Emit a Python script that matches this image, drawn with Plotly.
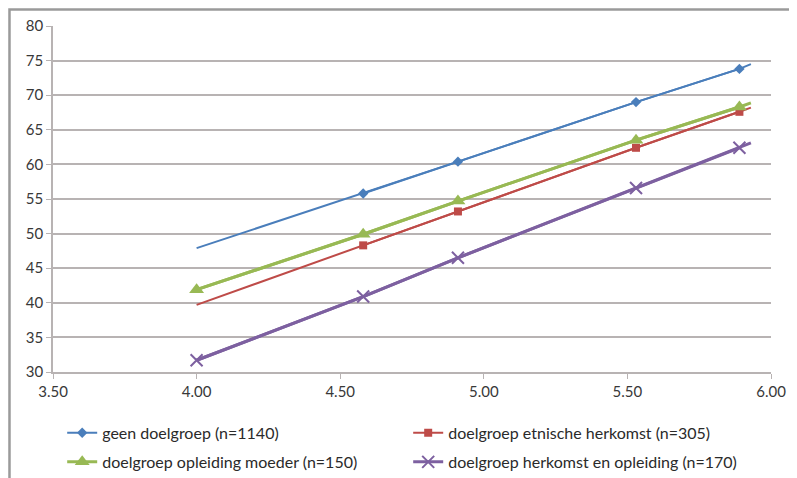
import plotly.graph_objects as go

# x-waarden (gemiddelde score) en percentages per groep
x_vals = [4.00, 4.58, 4.91, 5.53, 5.89, 5.93]
geen = [47.9, 55.8, 60.4, 69.0, 73.8, 74.5]
etnisch = [39.7, 48.3, 53.2, 62.4, 67.6, 68.2]
opleiding = [41.9, 49.9, 54.7, 63.5, 68.3, 68.9]
herkomst_opl = [31.7, 40.9, 46.5, 56.6, 62.4, 63.1]

# welke punten een marker krijgen (eerste index, laatste index exclusief)
marker_range = {
    'geen': (1, 5),
    'etnisch': (1, 5),
    'opleiding': (0, 5),
    'herkomst_opl': (0, 5),
}

namen = [
    'geen doelgroep (n=1140)',
    'doelgroep etnische herkomst (n=305)',
    'doelgroep opleiding moeder (n=150)',
    'doelgroep herkomst en opleiding (n=170)',
]

series = [
    ('geen', geen, '#4a7ebb', 2, dict(symbol='diamond', size=8)),
    ('etnisch', etnisch, '#be4b48', 2, dict(symbol='square', size=8)),
    ('opleiding', opleiding, '#98b954', 3, dict(symbol='triangle-up', size=13)),
    ('herkomst_opl', herkomst_opl, '#7d60a0', 3,
     dict(symbol='x-thin-open', size=12, line=dict(width=2))),
]

fig = go.Figure()

for i, (key, ys, color, lw, marker) in enumerate(series):
    # volledige lijn zonder markers
    fig.add_trace(go.Scatter(
        x=x_vals, y=ys, mode='lines',
        line=dict(color=color, width=lw),
        showlegend=False, hoverinfo='skip'
    ))
    # punten met markers (ook voor de legenda)
    a, b = marker_range[key]
    m = dict(marker)
    m['color'] = color
    if 'line' in m:
        m['line'] = dict(m['line'], color=color)
    fig.add_trace(go.Scatter(
        x=x_vals[a:b], y=ys[a:b], mode='lines+markers',
        line=dict(color=color, width=lw),
        marker=m,
        name=namen[i],
        legend='legend' if i < 2 else 'legend2'
    ))

grid = '#b8b3b3'
tick_font = dict(family='Lato', size=15, color='#383838')
legend_font = dict(family='Lato', size=16, color='#2a2a2a')

# pagina heeft 8px body-marge, daarom marges links/boven iets kleiner
fig.update_layout(
    width=797, height=478,
    paper_bgcolor='white', plot_bgcolor='white',
    margin=dict(l=45, r=34, t=18, b=114, autoexpand=False),
    font=dict(family='Lato', size=15, color='#333333'),
    xaxis=dict(
        range=[3.5, 6.0],
        tickvals=[3.5, 4.0, 4.5, 5.0, 5.5, 6.0],
        tickformat='.2f',
        showgrid=False, zeroline=False, automargin=False,
        showline=True, linecolor=grid, linewidth=1.5,
        ticks='outside', ticklen=5, tickcolor=grid,
        tickfont=tick_font,
    ),
    yaxis=dict(
        range=[30, 80],
        tickvals=[30, 35, 40, 45, 50, 55, 60, 65, 70, 75, 80],
        showgrid=True, gridcolor=grid, gridwidth=1.5, zeroline=False,
        automargin=False,
        showline=True, linecolor=grid, linewidth=1.5,
        ticks='outside', ticklen=5, tickcolor=grid,
        tickfont=tick_font,
    ),
    legend=dict(
        orientation='h', x=0.0128, xanchor='left', y=-0.176, yanchor='middle',
        entrywidth=301, entrywidthmode='pixels',
        font=legend_font,
        bgcolor='rgba(0,0,0,0)',
    ),
    legend2=dict(
        orientation='h', x=0.0128, xanchor='left', y=-0.26, yanchor='middle',
        entrywidth=301, entrywidthmode='pixels',
        font=legend_font,
        bgcolor='rgba(0,0,0,0)',
    ),
    shapes=[dict(
        type='rect', xref='paper', yref='paper',
        x0=-0.0606, x1=1.2, y0=-0.5, y1=1.0477,
        line=dict(color='#9a9a9a', width=2.5),
    )],
)

fig.write_html("out.html")
